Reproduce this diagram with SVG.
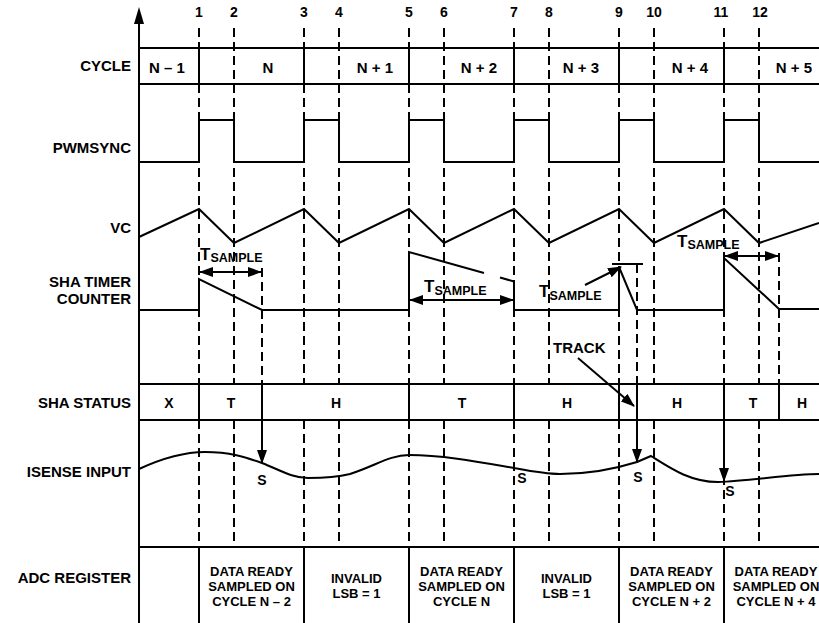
<svg xmlns="http://www.w3.org/2000/svg" width="819" height="623" viewBox="0 0 819 623">
<defs>
<style>
.s{stroke:#000;stroke-width:2;fill:none}
.d{stroke:#000;stroke-width:2;stroke-dasharray:9 5;fill:none}
.t{font-family:"Liberation Sans",Arial,Helvetica,sans-serif;font-weight:bold;fill:#000}
.lab{font-size:15px;text-anchor:end}
.num{font-size:14px;text-anchor:middle}
.cyc{font-size:15px;text-anchor:middle}
.st{font-size:14px;text-anchor:middle}
.adc{font-size:13px;text-anchor:middle}
.sm{font-size:14px;text-anchor:middle}
.big{font-size:17px}
.sub{font-size:12.5px}
</style>
<marker id="ah" markerUnits="userSpaceOnUse" markerWidth="14" markerHeight="10" refX="13" refY="5" orient="auto-start-reverse" viewBox="0 0 14 10">
<path d="M0,0 L14,5 L0,10 z" fill="#000"/>
</marker>
</defs>
<rect width="819" height="623" fill="#fff"/>

<g id="gridlines">
<path class="d" d="M199,28V547M234,28V547M304,28V547M339,28V547M409,28V547M444,28V547M514,28V547M549,28V547M619,28V547M654,28V547M724,28V547M759,28V547"/>
<path class="d" d="M262,268V384M637,264V384M779,253V384"/>
</g>

<g id="axis">
<line class="s" x1="139" y1="20" x2="139" y2="623"/>
<path d="M139,7 L134,24 L144,24 z" fill="#000"/>
<g class="t num">
<text x="199" y="17">1</text><text x="234" y="17">2</text><text x="304" y="17">3</text><text x="339" y="17">4</text>
<text x="409" y="17">5</text><text x="444" y="17">6</text><text x="514" y="17">7</text><text x="549" y="17">8</text>
<text x="619" y="17">9</text><text x="654" y="17">10</text><text x="721" y="17">11</text><text x="760" y="17">12</text>
</g>
</g>

<g id="labels" class="t lab">
<text x="131" y="71">CYCLE</text>
<text x="131" y="153">PWMSYNC</text>
<text x="131" y="233">VC</text>
<text x="131" y="287">SHA TIMER</text>
<text x="131" y="304">COUNTER</text>
<text x="131" y="408">SHA STATUS</text>
<text x="131" y="477">ISENSE INPUT</text>
<text x="131" y="583">ADC REGISTER</text>
</g>

<g id="cycle-row">
<path class="s" d="M139,48H819M139,84H819M199,48V84M304,48V84M409,48V84M514,48V84M619,48V84M724,48V84"/>
<g class="t cyc">
<text x="167" y="73">N – 1</text>
<text x="268" y="73">N</text>
<text x="375" y="73">N + 1</text>
<text x="479" y="73">N + 2</text>
<text x="581" y="73">N + 3</text>
<text x="690" y="73">N + 4</text>
<text x="794" y="73">N + 5</text>
</g>
</g>

<g id="pwmsync">
<path class="s" d="M139,162H199V120H234V162H304V120H339V162H409V120H444V162H514V120H549V162H619V120H654V162H724V120H759V162H819"/>
</g>

<g id="vc">
<path class="s" d="M139,237L199,209L234,243L304,209L339,243L409,209L444,243L514,209L549,243L619,209L654,243L724,209L759,243L819,223"/>
</g>

<g id="sha-timer">
<path class="s" d="M139,310H199V279L262,310H409V252L484,273M500,277.5L514,281.5V310H619V267L637,310H724V258L779,309H819"/>
<line class="s" x1="612" y1="264" x2="643" y2="264"/>
<text class="t" x="200" y="260"><tspan class="big">T</tspan><tspan class="sub" dy="2">SAMPLE</tspan></text>
<text class="t" x="424" y="292"><tspan class="big">T</tspan><tspan class="sub" dy="3">SAMPLE</tspan></text>
<text class="t" x="539" y="297"><tspan class="big">T</tspan><tspan class="sub" dy="3">SAMPLE</tspan></text>
<text class="t" x="677" y="247"><tspan class="big">T</tspan><tspan class="sub" dy="2">SAMPLE</tspan></text>
<text class="t" x="553" y="353" font-size="15">TRACK</text>
</g>

<g id="sha-status">
<rect x="140" y="384" width="679" height="36" fill="#fff"/>
<path class="s" d="M139,384H819M139,420H819M199,384V420M409,384V420M514,384V420M619,384V420M779,384V420"/>
<g class="t st">
<text x="169" y="408">X</text>
<text x="231" y="408">T</text>
<text x="336" y="408">H</text>
<text x="462" y="408">T</text>
<text x="567" y="408">H</text>
<text x="677" y="408">H</text>
<text x="753" y="408">T</text>
<text x="802" y="408">H</text>
</g>
</g>

<g id="connectors">
<line class="s" x1="200" y1="272" x2="261" y2="272" marker-start="url(#ah)" marker-end="url(#ah)"/>
<line class="s" x1="410" y1="300" x2="513" y2="300" marker-start="url(#ah)" marker-end="url(#ah)"/>
<line class="s" x1="585" y1="285" x2="621" y2="267" marker-end="url(#ah)"/>
<line class="s" x1="725" y1="256" x2="778" y2="256" marker-start="url(#ah)" marker-end="url(#ah)"/>
<line class="s" x1="578" y1="358" x2="634" y2="406" marker-end="url(#ah)"/>
<line class="s" x1="262" y1="384" x2="262" y2="463" marker-end="url(#ah)"/>
<line class="s" x1="637" y1="384" x2="637" y2="462" marker-end="url(#ah)"/>
<line class="s" x1="724" y1="384" x2="724" y2="481" marker-end="url(#ah)"/>
</g>

<g id="isense">
<path class="s" d="M139,469 C165,457 185,452 205,452 C230,452 245,457 262,463 C280,470 292,478 308,478 C322,478 338,477 350,474 C375,466 390,455 409,455 C445,455 485,463 514,468 C530,471 545,474 560,474 C590,474 618,468 637,462 L651,456 C670,468 690,482 718,482 C750,481 790,474 819,474"/>
<g class="t sm">
<text x="262" y="485">S</text>
<text x="522" y="483">S</text>
<text x="638" y="482">S</text>
<text x="730" y="496">S</text>
</g>
</g>

<g id="adc-register">
<path class="s" d="M139,547H819M199,547V623M304,547V623M409,547V623M514,547V623M619,547V623M724,547V623"/>
<g class="t adc">
<text x="251.5" y="576">DATA READY</text><text x="251.5" y="591">SAMPLED ON</text><text x="251.5" y="606">CYCLE N – 2</text>
<text x="356.5" y="583">INVALID</text><text x="356.5" y="598">LSB = 1</text>
<text x="461.5" y="576">DATA READY</text><text x="461.5" y="591">SAMPLED ON</text><text x="461.5" y="606">CYCLE N</text>
<text x="566.5" y="583">INVALID</text><text x="566.5" y="598">LSB = 1</text>
<text x="671.5" y="576">DATA READY</text><text x="671.5" y="591">SAMPLED ON</text><text x="671.5" y="606">CYCLE N + 2</text>
<text x="776" y="576">DATA READY</text><text x="776" y="591">SAMPLED ON</text><text x="776" y="606">CYCLE N + 4</text>
</g>
</g>
</svg>
